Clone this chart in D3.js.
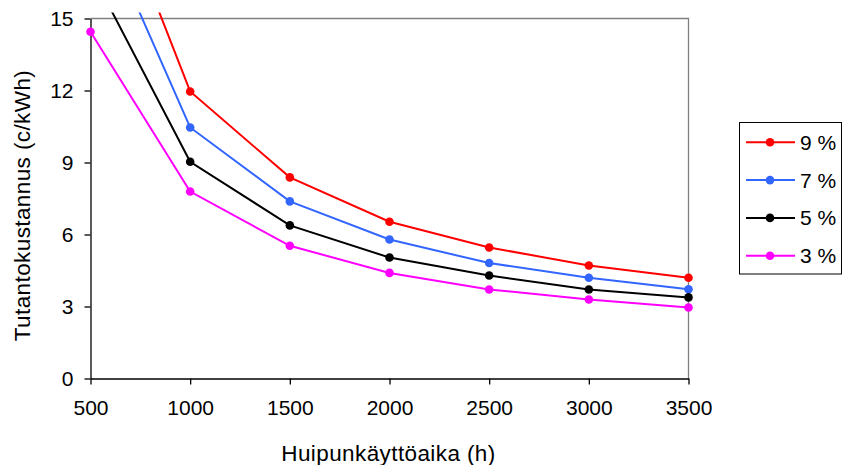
<!DOCTYPE html>
<html>
<head>
<meta charset="utf-8">
<script src="https://cdn.jsdelivr.net/npm/d3@7"></script>
<style>
  html, body { margin: 0; padding: 0; background: #fff; }
  svg { display: block; font-family: "Liberation Sans", Arial, sans-serif; }
</style>
</head>
<body>
<svg id="chart" width="842" height="465"></svg>
<script>
// Peak utilisation time (h) on the x axis
const hours = [500, 1000, 1500, 2000, 2500, 3000, 3500];

// Production cost (c/kWh) per interest rate
const rate9 = [22.6, 11.96, 8.38, 6.53, 5.46, 4.71, 4.20];
const rate7 = [19.9, 10.46, 7.38, 5.79, 4.81, 4.20, 3.72];
const rate5 = [17.0, 9.03, 6.38, 5.04, 4.29, 3.71, 3.38];
const rate3 = [14.45, 7.79, 5.53, 4.40, 3.71, 3.29, 2.96];

const seriesNames = ["9 %", "7 %", "5 %", "3 %"];
const seriesValues = [rate9, rate7, rate5, rate3];
const seriesColors = ["#ff0000", "#3366ff", "#000000", "#ff00ff"];

const xTicks = [500, 1000, 1500, 2000, 2500, 3000, 3500];
const yTicks = [0, 3, 6, 9, 12, 15];

const svg = d3.select("#chart");
const plot = { left: 90.5, right: 688.5, top: 18.5, bottom: 378.5 };
const tickFont = "21px";
const titleFont = "22.5px";

const x = d3.scaleLinear().domain([500, 3500]).range([plot.left, plot.right]);
const y = d3.scaleLinear().domain([0, 15]).range([plot.bottom, plot.top]);

// clip lines a little above the plot frame
svg.append("clipPath").attr("id", "plotClip")
  .append("rect")
  .attr("x", plot.left - 5).attr("y", plot.top - 6)
  .attr("width", plot.right - plot.left + 10)
  .attr("height", plot.bottom - plot.top + 12);

// plot frame: top and right edges in grey
svg.append("path")
  .attr("d", `M${plot.left},${plot.top}H${plot.right}V${plot.bottom}`)
  .attr("fill", "none").attr("stroke", "#808080").attr("stroke-width", 1.3);

// y axis
const yAxis = svg.append("g")
  .attr("transform", `translate(${plot.left},0)`)
  .call(d3.axisLeft(y).tickValues(yTicks).tickSize(6).tickSizeOuter(0).tickPadding(11));
// x axis
const xAxis = svg.append("g")
  .attr("transform", `translate(0,${plot.bottom})`)
  .call(d3.axisBottom(x).tickValues(xTicks).tickSize(6).tickSizeOuter(0).tickPadding(16).tickFormat(d3.format("d")));

[xAxis, yAxis].forEach(g => {
  g.attr("font-size", null).attr("font-family", null);
  g.select(".domain").attr("stroke", "#000").attr("stroke-width", 1.3);
  g.selectAll(".tick line").attr("stroke", "#000").attr("stroke-width", 1.3);
  g.selectAll(".tick text").attr("fill", "#000").style("font-size", tickFont);
});

// axis titles
svg.append("text")
  .attr("x", (plot.left + plot.right) / 2 - 1).attr("y", 461)
  .attr("text-anchor", "middle").style("font-size", titleFont)
  .style("letter-spacing", "0.4px")
  .text("Huipunkäyttöaika (h)");

svg.append("text")
  .attr("transform", `translate(29.5,${(plot.top + plot.bottom) / 2 + 7}) rotate(-90)`)
  .attr("text-anchor", "middle").style("font-size", titleFont)
  .style("letter-spacing", "0.4px")
  .text("Tutantokustannus (c/kWh)");

// series
const line = d3.line().x((d, i) => x(hours[i])).y(d => y(d));
const seriesG = svg.append("g").attr("clip-path", "url(#plotClip)");

seriesValues.forEach((vals, k) => {
  seriesG.append("path")
    .datum(vals)
    .attr("d", line)
    .attr("fill", "none")
    .attr("stroke", seriesColors[k])
    .attr("stroke-width", 2);
  seriesG.selectAll(null)
    .data(vals.map((v, i) => ({ v, i })).filter(d => d.v <= 15))
    .enter().append("circle")
    .attr("cx", d => x(hours[d.i]))
    .attr("cy", d => y(d.v))
    .attr("r", 4.3)
    .attr("fill", seriesColors[k]);
});

// legend
const legend = svg.append("g");
legend.append("rect")
  .attr("x", 739.5).attr("y", 122.5).attr("width", 102).attr("height", 151.5)
  .attr("fill", "#fff").attr("stroke", "#000").attr("stroke-width", 1);

const legendY = d3.scalePoint().domain(seriesNames).range([142.3, 255.7]);
seriesNames.forEach((name, k) => {
  const cy = legendY(name);
  legend.append("line")
    .attr("x1", 746).attr("x2", 795).attr("y1", cy).attr("y2", cy)
    .attr("stroke", seriesColors[k]).attr("stroke-width", 2);
  legend.append("circle")
    .attr("cx", 770).attr("cy", cy).attr("r", 4.3).attr("fill", seriesColors[k]);
  legend.append("text")
    .attr("x", 800).attr("y", cy).attr("dy", "0.36em")
    .style("font-size", tickFont).text(name);
});
</script>
</body>
</html>
